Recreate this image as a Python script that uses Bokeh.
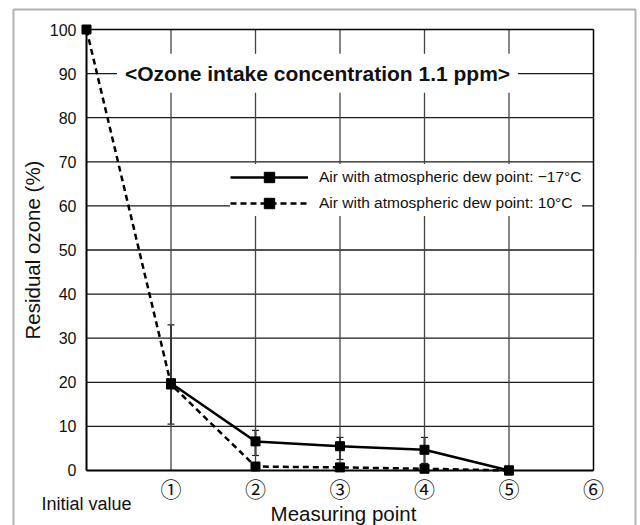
from bokeh.plotting import figure
from bokeh.models import (Range1d, FixedTicker, Label, Legend, LegendItem, Whisker,
                          ColumnDataSource, BoxAnnotation, TeeHead, LinearAxis)
from bokeh.embed import file_html
from bokeh.resources import INLINE

# ---------------- data ----------------
x_ticks = [1, 2, 3, 4, 5, 6]
x_tick_labels = ["①", "②", "③", "④", "⑤", "⑥"]
initial_tick = [0]
initial_label = "Initial value"
y_ticks = [0, 10, 20, 30, 40, 50, 60, 70, 80, 90, 100]

dew_m17_x = [1, 2, 3, 4, 5]
dew_m17_y = [19.8, 6.6, 5.5, 4.7, 0.0]
err_x = [1, 2, 3, 4]
err_lower = [10.5, 3.4, 2.5, 1.6]
err_upper = [33.0, 9.1, 7.5, 7.5]

dew_10_x = [0, 1, 2, 3, 4, 5]
dew_10_y = [100.0, 19.5, 0.9, 0.7, 0.4, 0.0]

label_m17 = "Air with atmospheric dew point: \u221217\u00b0C"
label_10 = "Air with atmospheric dew point: 10\u00b0C"
title_text = "<Ozone intake concentration 1.1 ppm>"
x_title = "Measuring point"
y_title = "Residual ozone (%)"

X_MIN, X_MAX = 0, 6
Y_MIN, Y_MAX = 0, 100
FONT = "Liberation Sans"
INK = "#111111"

# ---------------- figure ----------------
# the frame covers the whole canvas; axes are drawn at fixed data locations
p = figure(width=640, height=525, output_backend="svg", toolbar_location=None,
           x_range=Range1d(-1.0178, 6.5562), y_range=Range1d(-12.472, 106.576),
           x_axis_location=None, y_axis_location=None,
           min_border=0, background_fill_color="white", border_fill_color="white")
p.outline_line_color = None
p.xgrid.visible = False
p.ygrid.visible = False


def plain_axis(ax):
    ax.axis_line_color = None
    ax.major_tick_line_color = None
    ax.minor_tick_line_color = None
    ax.major_tick_in = 0
    ax.major_tick_out = 0
    ax.minor_tick_in = 0
    ax.minor_tick_out = 0
    return ax


xa = plain_axis(LinearAxis(fixed_location=Y_MIN, bounds=(X_MIN, 6.08),
                           ticker=FixedTicker(ticks=x_ticks)))
xa.major_label_overrides = {t: s for t, s in zip(x_ticks, x_tick_labels)}
xa.major_label_text_font = "Noto Sans CJK JP"
xa.major_label_text_font_size = "21px"
xa.major_label_standoff = 3
xa.major_label_text_color = INK
xa.axis_label = x_title
xa.axis_label_text_font = FONT
xa.axis_label_text_font_size = "20.5px"
xa.axis_label_text_font_style = "normal"
xa.axis_label_text_color = INK
xa.axis_label_standoff = -5
p.add_layout(xa, "below")

xa0 = plain_axis(LinearAxis(fixed_location=Y_MIN, ticker=FixedTicker(ticks=initial_tick)))
xa0.major_label_overrides = {initial_tick[0]: initial_label}
xa0.major_label_text_font = FONT
xa0.major_label_text_font_size = "18px"
xa0.major_label_standoff = 24
xa0.major_label_text_color = INK
p.add_layout(xa0, "below")

ya = plain_axis(LinearAxis(fixed_location=X_MIN, bounds=(Y_MIN, Y_MAX),
                           ticker=FixedTicker(ticks=y_ticks)))
ya.major_label_text_font = FONT
ya.major_label_text_font_size = "16px"
ya.major_label_standoff = 10
ya.major_label_text_color = INK
ya.axis_label = y_title
ya.axis_label_text_font = FONT
ya.axis_label_text_font_size = "20.5px"
ya.axis_label_text_font_style = "normal"
ya.axis_label_text_color = INK
ya.axis_label_standoff = 3
p.add_layout(ya, "left")

# grid lines (from the tick arrays)
h_grid = y_ticks[1:-1]
v_grid = x_ticks[:-1]
p.segment(x0=[X_MIN] * len(h_grid), y0=h_grid, x1=[X_MAX] * len(h_grid), y1=h_grid,
          line_color="#1a1a1a", line_width=1.3)
p.segment(x0=v_grid, y0=[Y_MIN] * len(v_grid), x1=v_grid, y1=[Y_MAX] * len(v_grid),
          line_color="#444444", line_width=1.3)
# plot border
p.segment(x0=[X_MIN, X_MIN, X_MIN, X_MAX], y0=[Y_MIN, Y_MIN, Y_MAX, Y_MIN],
          x1=[X_MAX, X_MIN, X_MAX, X_MAX], y1=[Y_MIN, Y_MAX, Y_MAX, Y_MAX],
          line_color="black", line_width=[2, 2, 1.5, 1.5])

# outer frame of the figure panel (bottom edge lies below the page)
p.add_layout(BoxAnnotation(left=-0.864, right=6.497, top=104.535, bottom=-30,
                           fill_alpha=0, line_color="black", line_width=2))

# error bars
err_src = ColumnDataSource(dict(x=err_x, lower=err_lower, upper=err_upper))
p.add_layout(Whisker(source=err_src, base="x", lower="lower", upper="upper",
                     line_color="#222222", line_width=2,
                     upper_head=TeeHead(size=7, line_color="#222222", line_width=1.2),
                     lower_head=TeeHead(size=7, line_color="#222222", line_width=1.2)))

# series
l10 = p.line(dew_10_x, dew_10_y, line_color="black", line_width=2.5, line_dash="6 4")
s10 = p.scatter(dew_10_x, dew_10_y, marker="square", size=9, color="black")
l17 = p.line(dew_m17_x, dew_m17_y, line_color="black", line_width=2.5)
s17 = p.scatter(dew_m17_x, dew_m17_y, marker="square", size=9, color="black")

legend = Legend(items=[LegendItem(label=label_m17, renderers=[l17, s17]),
                       LegendItem(label=label_10, renderers=[l10, s10])],
                location=(230, 309), margin=0, padding=1, spacing=-2,
                glyph_width=78, glyph_height=26, label_height=26, label_standoff=11,
                label_text_font=FONT, label_text_font_size="15.5px", label_text_color=INK,
                background_fill_color="white", background_fill_alpha=1.0,
                border_line_color=None)
p.add_layout(legend)

# title inside plot
p.add_layout(Label(x=2.734, y=90.1, text=title_text, text_align="center",
                   text_baseline="alphabetic", text_font=FONT, text_font_size="21px",
                   text_font_style="bold", text_color=INK,
                   background_fill_color="white", background_fill_alpha=1.0, padding=8))

open("out.html", "w").write(file_html(p, INLINE))
